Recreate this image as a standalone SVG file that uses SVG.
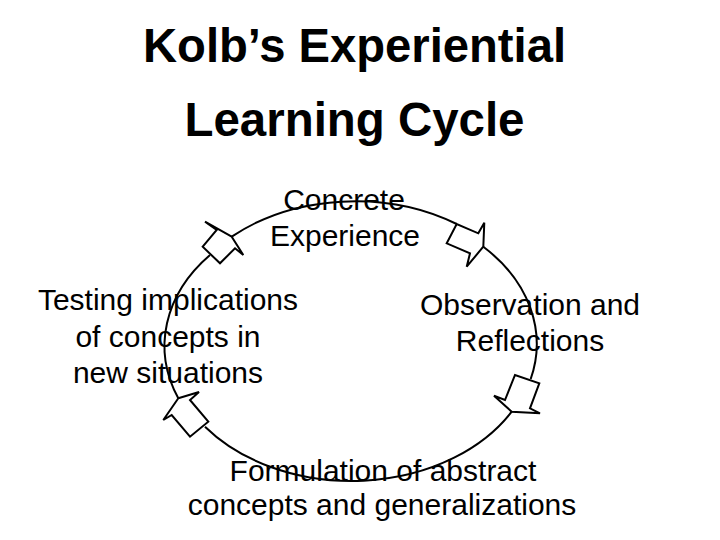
<svg xmlns="http://www.w3.org/2000/svg" width="720" height="540" viewBox="0 0 720 540">
<style>
.title{font-family:"Liberation Sans",Arial,sans-serif;font-weight:bold;font-size:48px;fill:#000;text-anchor:middle}
.lbl{font-family:"Liberation Sans",Arial,sans-serif;font-size:30px;fill:#000;text-anchor:middle}
.arc{fill:none;stroke:#000;stroke-width:2}
.head{fill:#fff;stroke:#000;stroke-width:2;stroke-linejoin:miter}
</style>
<rect width="720" height="540" fill="#fff"/>
<g id="title">
<text class="title" x="354.5" y="61.7" textLength="423" lengthAdjust="spacingAndGlyphs">Kolb’s Experiential</text>
<text class="title" x="354.5" y="135.7" textLength="340" lengthAdjust="spacingAndGlyphs">Learning Cycle</text>
</g>
<g id="connectors">
<path class="arc" d="M231.7,236.7 A184.7,138.3 0 0 1 456.7,224"/>
<path class="arc" d="M483.3,246.7 A184.7,138.3 0 0 1 530.7,379"/>
<path class="arc" d="M511.7,411.7 A184.7,138.3 0 0 1 205,426.7"/>
<path class="arc" d="M178.3,398.3 A184.7,138.3 0 0 1 210,255"/>
<polygon class="head" points="231.7,236.7 205,221.7 216.7,230 202.7,246.7 220,263.3 235,248.3 243.3,255"/>
<polygon class="head" points="483.3,246.7 484.3,222.7 478.3,233.3 456.7,224 446.7,243.3 470,253.3 466.7,266.7"/>
<polygon class="head" points="511.7,411.7 494,395.7 505,400 515,375 539.3,383.3 530,408.3 540,413.3"/>
<polygon class="head" points="178.3,398.3 199,392 190,400 208.3,421.7 190,436.7 171.7,415 163.3,420"/>
</g>
<g id="concrete-experience">
<text class="lbl" x="344" y="210">Concrete</text>
<text class="lbl" x="345" y="246">Experience</text>
</g>
<g id="observation-reflections">
<text class="lbl" x="530" y="315">Observation and</text>
<text class="lbl" x="530" y="351">Reflections</text>
</g>
<g id="formulation">
<text class="lbl" x="383" y="481">Formulation of abstract</text>
<text class="lbl" x="382" y="515">concepts and generalizations</text>
</g>
<g id="testing">
<text class="lbl" x="168" y="310">Testing implications</text>
<text class="lbl" x="168" y="347">of concepts in</text>
<text class="lbl" x="168" y="383">new situations</text>
</g>
</svg>
